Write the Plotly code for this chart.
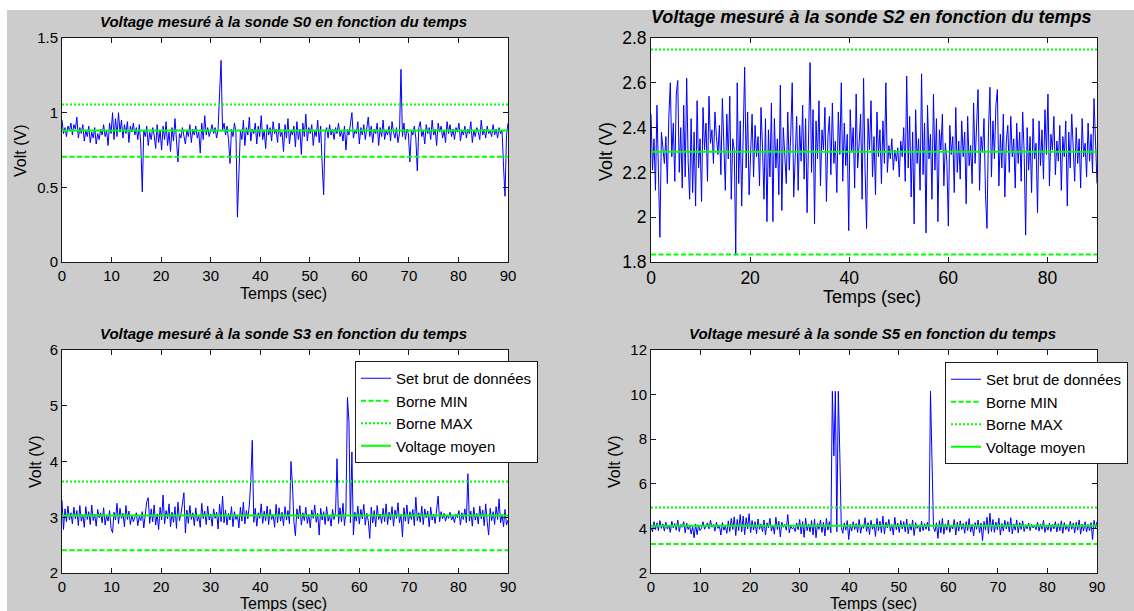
import numpy as np
import plotly.graph_objects as go

# ---------------- data ----------------
t_start, t_end, t_step = 0.0, 90.0, 0.3
temps = np.round(np.arange(t_start, t_end + 1e-9, t_step), 2)

s0_volts = [
    0.95, 0.86, 0.90, 0.84, 0.91, 0.88, 0.93, 0.85, 0.92, 0.89,
    0.97, 0.83, 0.90, 0.86, 0.92, 0.81, 0.88, 0.84, 0.91, 0.80,
    0.87, 0.83, 0.90, 0.79, 0.86, 0.82, 0.89, 0.85, 0.92, 0.84,
    0.88, 0.78, 0.93, 0.86, 1.00, 0.82, 0.96, 0.84, 1.00, 0.87,
    0.95, 0.83, 0.92, 0.86, 0.94, 0.80, 0.91, 0.87, 0.93, 0.85,
    0.90, 0.82, 0.92, 0.79, 0.47, 0.88, 0.84, 0.91, 0.78, 0.87,
    0.82, 0.90, 0.85, 0.76, 0.92, 0.80, 0.88, 0.75, 0.91, 0.82,
    0.94, 0.78, 0.87, 0.74, 0.90, 0.81, 0.96, 0.77, 0.67, 0.86,
    0.83, 0.90, 0.85, 0.79, 0.88, 0.84, 0.92, 0.80, 0.89, 0.85,
    0.91, 0.83, 0.87, 0.73, 0.93, 0.82, 0.98, 0.85, 0.90, 0.84,
    0.88, 0.92, 0.86, 0.90, 0.83, 0.89, 1.13, 1.35, 0.88, 0.93,
    0.85, 0.91, 0.82, 0.66, 0.89, 0.84, 0.93, 0.87, 0.30, 0.57,
    0.88, 0.82, 0.95, 0.78, 0.90, 0.85, 0.97, 0.81, 0.89, 0.86,
    0.93, 0.79, 0.91, 0.84, 0.98, 0.82, 0.88, 0.76, 0.92, 0.85,
    0.90, 0.81, 0.94, 0.86, 0.89, 0.80, 0.93, 0.84, 0.87, 0.74,
    0.92, 0.83, 0.96, 0.79, 0.88, 0.85, 0.91, 0.77, 0.94, 0.82,
    0.89, 0.72, 0.93, 0.84, 0.99, 0.81, 0.90, 0.86, 0.92, 0.78,
    0.88, 0.84, 0.95, 0.80, 0.91, 0.65, 0.45, 0.87, 0.90, 0.83,
    0.92, 0.85, 0.89, 0.82, 0.90, 0.86, 0.93, 0.84, 0.88, 0.81,
    0.91, 0.75, 0.89, 0.85, 0.92, 1.00, 0.83, 0.88, 0.86, 0.94,
    0.79, 0.90, 0.85, 0.92, 0.82, 0.88, 0.97, 0.84, 0.91, 0.80,
    0.89, 0.86, 0.93, 0.78, 0.90, 0.84, 0.95, 0.82, 0.88, 0.85,
    0.91, 0.81, 0.94, 0.87, 0.83, 0.90, 0.80, 0.86, 1.29, 0.84,
    0.93, 0.82, 0.89, 0.86, 0.67, 0.88, 0.85, 0.91, 0.83, 0.61,
    0.90, 0.94, 0.84, 0.88, 0.79, 0.92, 0.86, 0.90, 0.82, 0.95,
    0.85, 0.89, 0.78, 0.93, 0.87, 0.91, 0.83, 0.88, 0.80, 0.94,
    0.86, 0.92, 0.84, 0.89, 0.82, 0.90, 0.87, 0.93, 0.81, 0.88,
    0.85, 0.91, 0.83, 0.89, 0.86, 0.94, 0.80, 0.88, 0.84, 0.90,
    0.87, 0.82, 0.95, 0.85, 0.89, 0.83, 0.91, 0.86, 0.88, 0.84,
    0.92, 0.85, 0.89, 0.83, 0.90, 0.86, 0.88, 0.64, 0.44, 0.85,
    0.93,
]

s2_volts = [
    2.46, 2.21, 2.35, 2.12, 2.50, 2.18, 1.91, 2.38, 2.30, 2.24,
    2.36, 2.15, 2.45, 2.60, 2.27, 2.42, 2.16, 2.55, 2.61, 2.20,
    2.40, 2.13, 2.50, 2.18, 2.62, 2.25, 2.08, 2.44, 2.11, 2.38,
    2.05, 2.52, 2.22, 2.35, 2.07, 2.49, 2.30, 2.42, 2.16, 2.54,
    2.33, 2.39, 2.24, 2.47, 2.36, 2.28, 2.41, 2.19, 2.53, 2.32,
    2.12, 2.46, 2.26, 2.54, 2.08, 2.35, 2.30, 1.83, 2.60, 2.15,
    2.43, 2.05, 2.38, 2.67, 2.22, 2.47, 2.10, 2.34, 2.46, 2.18,
    2.41, 2.27, 2.36, 2.14, 2.49, 2.31, 2.08, 2.44, 1.98, 2.39,
    2.18, 2.51, 1.98, 2.44, 2.22, 2.35, 2.10, 2.59, 2.03, 2.40,
    2.28, 2.15, 2.47, 2.21, 2.37, 2.60, 2.09, 2.33, 2.45, 2.12,
    2.41, 2.25, 2.50, 2.17, 2.44, 2.02, 2.38, 2.69, 2.20, 2.48,
    1.97, 2.43, 2.26, 2.52, 2.14, 2.39, 2.30, 2.49, 2.07, 2.36,
    2.45, 2.19, 2.51, 2.24, 2.34, 2.11, 2.47, 2.28, 2.60, 2.16,
    2.42, 2.23, 2.37, 1.94, 2.48, 2.29, 2.40, 2.13, 2.55, 2.22,
    2.33, 2.46, 2.08, 2.62, 2.21, 1.95, 2.44, 2.30, 2.52, 2.18,
    2.36, 2.10, 2.47, 2.27, 2.39, 2.15, 2.43, 2.24, 2.60, 2.20,
    2.32, 2.26, 2.35, 2.21, 2.30, 2.25, 2.31, 2.18, 2.34, 2.27,
    2.40, 2.16, 2.63, 2.22, 2.45, 2.09, 2.38, 1.97, 2.48, 2.24,
    2.35, 2.12, 2.64, 2.19, 2.42, 1.93, 2.50, 2.26, 2.37, 2.08,
    2.55, 2.21, 2.44, 1.98, 2.39, 2.30, 2.46, 2.14, 2.33, 2.25,
    1.96, 2.41, 2.28, 2.36, 2.11, 2.49, 2.20, 2.34, 2.17, 2.43,
    2.27, 2.38, 2.06, 2.45, 2.23, 2.32, 2.15, 2.51, 2.24, 2.40,
    2.57, 2.12, 2.36, 2.29, 2.44, 2.10, 1.95, 2.39, 2.58, 2.18,
    2.43, 2.26, 2.50, 2.57, 2.14, 2.37, 2.22, 2.46, 2.09, 2.34,
    2.41, 2.20, 2.45, 2.27, 2.35, 2.13, 2.42, 2.24, 2.38, 2.16,
    2.47, 2.29, 1.92, 2.40, 2.21, 2.36, 2.11, 2.44, 2.26, 2.33,
    2.02, 2.43, 2.23, 2.39, 2.17, 2.48, 2.28, 2.55, 2.14, 2.37,
    2.30, 2.45, 2.19, 2.34, 2.25, 2.41, 2.12, 2.36, 2.27, 2.43,
    2.05, 2.38, 2.22, 2.46, 2.29, 2.16, 2.40, 2.24, 2.35, 2.13,
    2.44, 2.27, 2.33, 2.18, 2.42, 2.25, 2.37, 2.20, 2.53, 2.28,
    2.15,
]

s3_volts = [
    3.30, 2.78, 3.15, 2.92, 3.20, 2.95, 3.08, 2.88, 3.18, 2.97,
    3.12, 2.85, 3.21, 2.93, 3.05, 2.82, 3.19, 2.96, 3.10, 2.87,
    3.22, 2.94, 3.06, 2.84, 3.14, 2.99, 3.08, 2.90, 3.17, 2.86,
    3.03, 2.93, 3.12, 2.80, 2.72, 3.09, 2.95, 3.25, 2.88, 3.16,
    2.98, 3.07, 2.83, 3.21, 2.96, 3.11, 2.87, 3.04, 2.92, 2.99,
    3.08, 2.85, 3.02, 2.94, 3.10, 2.81, 3.00, 3.28, 3.35, 2.89,
    3.15, 2.92, 3.22, 2.86, 3.06, 2.78, 3.18, 2.95, 3.40, 2.88,
    3.12, 2.97, 3.24, 2.83, 3.09, 2.91, 3.19, 2.80, 3.27, 2.94,
    3.05, 3.30, 3.44, 2.72, 3.13, 2.89, 3.21, 2.96, 3.08, 2.85,
    3.17, 2.93, 3.02, 2.82, 3.25, 2.97, 3.11, 2.87, 3.20, 2.95,
    3.06, 2.84, 3.15, 2.98, 3.09, 2.79, 3.23, 2.92, 3.38, 2.90,
    3.13, 2.86, 3.07, 2.95, 3.19, 2.83, 3.10, 2.96, 3.04, 2.81,
    3.18, 2.93, 3.27, 2.88, 3.12, 2.97, 3.22, 3.65, 4.38, 2.91,
    3.16, 2.84, 3.08, 2.98, 3.24, 2.89, 3.11, 2.94, 3.20, 2.87,
    3.14, 2.96, 3.05, 2.82, 3.23, 2.90, 3.17, 2.93, 3.09, 2.85,
    3.19, 2.95, 3.12, 2.88, 4.00, 3.60, 2.92, 2.67, 3.15, 2.97,
    3.21, 2.86, 3.08, 2.94, 3.18, 2.89, 3.05, 2.81, 3.13, 2.98,
    3.22, 2.91, 3.07, 2.68, 3.16, 2.95, 3.10, 2.87, 3.19, 2.93,
    3.04, 2.84, 3.14, 2.96, 3.08, 4.05, 2.89, 3.17, 2.92, 3.25,
    2.85, 3.11, 5.15, 4.72, 2.90, 4.17, 2.68, 3.09, 2.93, 3.20,
    2.88, 3.14, 2.97, 3.23, 2.86, 3.07, 2.94, 2.62, 3.18, 2.90,
    3.12, 2.83, 3.21, 2.96, 3.06, 2.89, 3.16, 2.92, 3.24, 2.87,
    3.09, 2.95, 3.19, 2.84, 3.13, 2.98, 3.26, 2.90, 3.05, 2.65,
    3.17, 2.93, 3.22, 2.88, 3.10, 2.96, 3.14, 2.85, 3.36, 2.94,
    3.08, 2.91, 3.20, 2.87, 3.15, 2.99, 3.11, 2.83, 3.18, 2.95,
    3.06, 2.89, 3.13, 3.38, 2.92, 3.10, 2.97, 3.07, 2.93, 3.04,
    2.98, 3.09, 2.95, 3.02, 2.90, 3.06, 2.99, 3.12, 2.86, 3.08,
    2.96, 3.15, 2.90, 3.78, 2.93, 3.11, 2.84, 3.18, 2.95, 3.07,
    2.88, 3.20, 2.97, 3.13, 2.85, 3.24, 2.92, 2.68, 3.16, 2.94,
    3.10, 2.87, 3.19, 2.96, 3.33, 2.90, 3.05, 2.83, 3.14, 2.86,
    2.95,
]

s5_volts = [
    4.05, 3.85, 4.30, 3.95, 4.25, 3.90, 4.35, 4.00, 4.20, 3.88,
    4.28, 3.97, 4.15, 3.82, 4.32, 4.02, 4.22, 3.92, 4.38, 3.86,
    4.18, 4.05, 4.30, 3.80, 4.24, 3.95, 4.12, 3.75, 4.08, 3.58,
    4.20, 3.72, 4.15, 3.90, 4.02, 4.30, 3.96, 4.10, 4.25, 3.98,
    4.36, 4.05, 4.18, 3.88, 4.28, 4.00, 4.12, 3.70, 4.26, 3.92,
    4.10, 3.78, 4.34, 3.86, 4.45, 3.95, 4.52, 3.68, 4.40, 3.90,
    4.62, 3.84, 4.55, 3.72, 4.48, 3.98, 4.66, 3.80, 4.35, 3.93,
    4.30, 3.76, 4.42, 3.96, 4.20, 3.85, 4.38, 3.70, 4.25, 4.02,
    4.45, 3.88, 4.15, 3.74, 4.50, 3.95, 4.32, 3.62, 4.28, 4.05,
    4.18, 3.92, 4.62, 3.80, 4.12, 3.98, 4.05, 3.86, 4.24, 3.94,
    4.40, 3.75, 4.30, 3.60, 4.46, 3.90, 4.20, 3.84, 4.35, 3.70,
    4.42, 3.58, 4.22, 3.96, 4.38, 3.82, 4.28, 3.66, 4.45, 3.92,
    4.30, 3.80, 10.15, 7.25, 10.15, 3.85, 10.15, 7.35, 4.05, 3.78,
    4.25, 3.92, 4.35, 3.50, 4.18, 3.88, 4.30, 3.95, 4.22, 3.82,
    4.40, 3.78, 4.15, 4.00, 4.48, 3.86, 4.26, 3.72, 4.36, 3.96,
    4.20, 3.64, 4.45, 3.90, 4.32, 3.80, 4.55, 3.75, 4.28, 4.02,
    4.40, 3.88, 4.18, 3.70, 4.50, 3.94, 4.24, 3.82, 4.35, 3.98,
    4.30, 3.85, 4.42, 3.76, 4.20, 3.92, 4.38, 3.68, 4.26, 4.00,
    4.15, 3.84, 4.32, 3.90, 4.22, 3.96, 4.28, 3.88, 10.15, 7.10,
    4.05, 3.86, 4.25, 3.55, 4.35, 3.80, 4.45, 3.74, 4.20, 3.92,
    4.38, 3.82, 4.15, 3.98, 4.40, 3.70, 4.28, 3.88, 4.34, 3.95,
    4.22, 3.78, 4.30, 3.90, 4.44, 3.84, 4.18, 3.66, 4.26, 3.96,
    4.38, 3.80, 4.24, 3.45, 4.32, 3.92, 4.50, 3.76, 4.68, 3.86,
    4.40, 3.82, 4.28, 3.94, 4.46, 3.70, 4.22, 3.88, 4.36, 3.98,
    4.30, 3.84, 4.48, 3.76, 4.20, 3.92, 4.38, 3.80, 4.26, 3.95,
    4.34, 3.86, 4.16, 3.98, 4.24, 3.90, 4.18, 4.02, 4.12, 3.94,
    4.28, 3.88, 4.20, 3.96, 4.36, 3.82, 4.14, 3.92, 4.24, 3.86,
    4.18, 3.98, 4.30, 3.84, 4.22, 3.90, 4.34, 3.78, 4.26, 3.94,
    4.16, 3.86, 4.32, 3.96, 4.24, 3.80, 4.28, 3.92, 4.38, 3.74,
    4.20, 3.88, 4.30, 3.84, 4.18, 3.90, 4.26, 3.50, 4.36, 4.00,
    4.30,
]

probe_names = ["S0", "S2", "S3", "S5"]
borne_min = [0.704, 1.834, 2.41, 3.30]
borne_max = [1.054, 2.749, 3.64, 4.94]
voltage_moyen = [0.880, 2.292, 3.03, 4.12]

y_ranges = [[0, 1.5], [1.8, 2.8], [2, 6], [2, 12]]
y_tickvals = [[0, 0.5, 1, 1.5], [1.8, 2, 2.2, 2.4, 2.6, 2.8], [2, 3, 4, 5, 6], [2, 4, 6, 8, 10, 12]]
y_ticktext = [["0", "0.5", "1", "1.5"], ["1.8", "2", "2.2", "2.4", "2.6", "2.8"],
              ["2", "3", "4", "5", "6"], ["2", "4", "6", "8", "10", "12"]]
x_tickvals = [[0, 10, 20, 30, 40, 50, 60, 70, 80, 90], [0, 20, 40, 60, 80],
              [0, 10, 20, 30, 40, 50, 60, 70, 80, 90], [0, 10, 20, 30, 40, 50, 60, 70, 80, 90]]

legend_labels = ["Set brut de données", "Borne MIN", "Borne MAX", "Voltage moyen"]
title_fmt = "Voltage mesuré à la sonde {} en fonction du temps"
x_label = "Temps (sec)"
y_label = "Volt (V)"

series = [s0_volts, s2_volts, s3_volts, s5_volts]

# ---------------- layout helpers ----------------
W, H = 1134, 611
FONT = "Liberation Sans, Arial, Helvetica, sans-serif"
GREY = "#cccccc"

def px(x):
    return x / W

def py(y):
    return 1 - y / H

# panel boxes in pixels: (x0, x1, ytop, ybottom)
boxes = [(62, 508, 38, 262), (651, 1097, 38, 262), (62, 508, 350, 573), (651, 1097, 350, 573)]
tick_sizes = [15, 17.5, 15, 15]
label_sizes = [16, 18, 16, 16]
title_sizes = [15, 18, 15, 15]
title_pos = [(283, 21), (871, 17), (283, 333), (872, 333)]
xlab_pos = [(283, 293), (872, 297), (283, 603), (873, 603)]
ylab_pos = [(21, 151), (606, 152), (35, 462), (614, 462)]

fig = go.Figure()

for k in range(4):
    ax = "" if k == 0 else str(k + 1)
    xa, ya = "x" + ax, "y" + ax
    leg = None
    show = False
    if k == 2:
        leg, show = "legend", True
    elif k == 3:
        leg, show = "legend2", True
    common = dict(xaxis=xa, yaxis=ya, showlegend=show, hoverinfo="skip")
    if leg:
        common["legend"] = leg
    fig.add_trace(go.Scatter(x=temps, y=series[k], mode="lines", name=legend_labels[0],
                             line=dict(color="#0000ff", width=1), **common))
    fig.add_trace(go.Scatter(x=[t_start, t_end], y=[borne_min[k]] * 2, mode="lines", name=legend_labels[1],
                             line=dict(color="#00ff00", width=2, dash="5px,2.5px"), **common))
    fig.add_trace(go.Scatter(x=[t_start, t_end], y=[borne_max[k]] * 2, mode="lines", name=legend_labels[2],
                             line=dict(color="#00ff00", width=2, dash="2px,2px"), **common))
    fig.add_trace(go.Scatter(x=[t_start, t_end], y=[voltage_moyen[k]] * 2, mode="lines", name=legend_labels[3],
                             line=dict(color="#00ff00", width=2), **common))

layout = dict(
    width=W, height=H,
    margin=dict(l=0, r=0, t=0, b=0, autoexpand=False),
    paper_bgcolor=GREY, plot_bgcolor="white",
    font=dict(family=FONT, color="black"),
    annotations=[], shapes=[],
)

for k in range(4):
    ax = "" if k == 0 else str(k + 1)
    x0, x1, yt, yb = boxes[k]
    axis_common = dict(showline=True, linecolor="#1a1a1a", linewidth=1, mirror="ticks",
                       ticks="inside", ticklen=5, tickcolor="#1a1a1a", tickwidth=1,
                       showgrid=False, zeroline=False,
                       tickfont=dict(size=tick_sizes[k], family=FONT, color="black"))
    layout["xaxis" + ax] = dict(domain=[px(x0), px(x1)], range=[t_start, t_end], anchor="y" + ax,
                                tickmode="array", tickvals=x_tickvals[k],
                                ticktext=[str(v) for v in x_tickvals[k]], **axis_common)
    layout["yaxis" + ax] = dict(domain=[py(yb), py(yt)], range=y_ranges[k], anchor="x" + ax,
                                tickmode="array", tickvals=y_tickvals[k], ticktext=y_ticktext[k],
                                **axis_common)
    tx, ty = title_pos[k]
    layout["annotations"].append(dict(text="<b><i>" + title_fmt.format(probe_names[k]) + "</i></b>",
                                      x=px(tx), y=py(ty), xref="paper", yref="paper",
                                      xanchor="center", yanchor="middle", showarrow=False,
                                      font=dict(size=title_sizes[k], family=FONT, color="black")))
    lx, ly = xlab_pos[k]
    layout["annotations"].append(dict(text=x_label, x=px(lx), y=py(ly), xref="paper", yref="paper",
                                      xanchor="center", yanchor="middle", showarrow=False,
                                      font=dict(size=label_sizes[k], family=FONT, color="black")))
    vx, vy = ylab_pos[k]
    layout["annotations"].append(dict(text=y_label, x=px(vx), y=py(vy), xref="paper", yref="paper",
                                      xanchor="center", yanchor="middle", showarrow=False, textangle=-90,
                                      font=dict(size=label_sizes[k], family=FONT, color="black")))

# white strips at top and left edge of the picture
layout["shapes"].append(dict(type="rect", xref="paper", yref="paper", x0=0, x1=1, y0=py(10), y1=1.01,
                             fillcolor="white", line=dict(width=0), layer="below"))
layout["shapes"].append(dict(type="rect", xref="paper", yref="paper", x0=-0.01, x1=px(7), y0=-0.01, y1=1.01,
                             fillcolor="white", line=dict(width=0), layer="below"))

legend_common = dict(xanchor="left", yanchor="top", bgcolor="white", bordercolor="#1a1a1a",
                     borderwidth=1, font=dict(size=15, family=FONT, color="black"),
                     tracegroupgap=0, itemwidth=30)
layout["legend"] = dict(x=px(355), y=py(361), **legend_common)
layout["legend2"] = dict(x=px(945), y=py(362), **legend_common)

fig.update_layout(**layout)
fig.write_html("out.html")
